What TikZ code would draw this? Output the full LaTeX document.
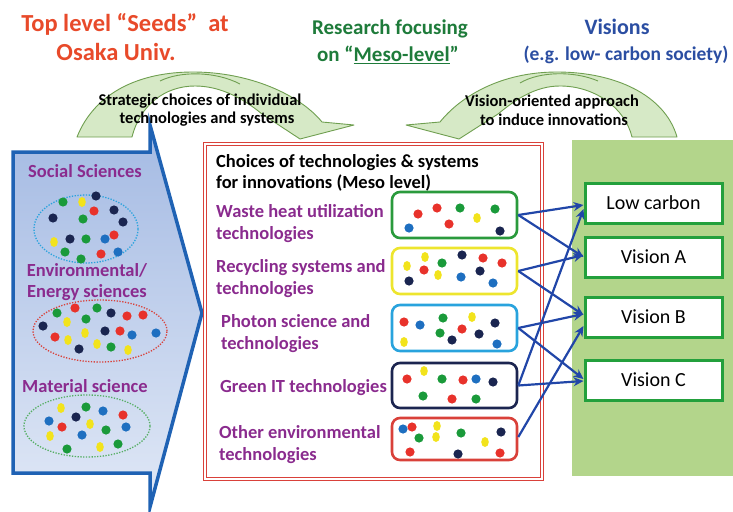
\documentclass[tikz,border=0pt]{standalone}
\usepackage{fontspec}
\setmainfont{Carlito}
\usetikzlibrary{calc,arrows.meta}
\definecolor{tred}{HTML}{E84A2A}
\definecolor{tgreen}{HTML}{1E7B3A}
\definecolor{tblue}{HTML}{2B4EA2}
\definecolor{tpurple}{HTML}{8A2B8E}
\definecolor{chevblue}{HTML}{1F62B4}
\definecolor{chevtop}{HTML}{A4BAE3}
\definecolor{chevbot}{HTML}{E0E8F6}
\definecolor{panelgreen}{HTML}{B3D58B}
\definecolor{visgreen}{HTML}{23A03C}
\definecolor{boxred}{HTML}{D9413A}
\definecolor{arrowblue}{HTML}{2146A8}
\definecolor{cfill}{HTML}{D6E9C6}
\definecolor{cdraw}{HTML}{6F9F50}
\definecolor{cr}{HTML}{E8322B}
\definecolor{cg}{HTML}{1A9A3A}
\definecolor{cy}{HTML}{F2E31C}
\definecolor{cn}{HTML}{1A2550}
\definecolor{cb}{HTML}{1E6FC0}
\definecolor{bgreen}{HTML}{2A9A3C}
\definecolor{byellow}{HTML}{EDE52E}
\definecolor{bcyan}{HTML}{29A3DD}
\definecolor{bnavy}{HTML}{1C2550}
\begin{document}
\begin{tikzpicture}[x=1pt,y=-1pt,
  title/.style={anchor=base,font=\bfseries\fontsize{22}{26}\selectfont},
  arlabel/.style={anchor=base,font=\bfseries\fontsize{16.5}{19}\selectfont,text=black},
  purp/.style={anchor=base west,font=\bfseries\fontsize{18.5}{22}\selectfont,text=tpurple,inner sep=0},
  leftlab/.style={anchor=base,font=\bfseries\fontsize{18.5}{22}\selectfont,text=tpurple,inner sep=0},
  head/.style={anchor=base west,font=\bfseries\fontsize{18.5}{22}\selectfont,text=black,inner sep=0},
  dbox/.style={rounded corners=8pt,line width=2.6pt,minimum width=125pt,inner sep=0},
  visbox/.style={draw=visgreen,line width=3pt,fill=white,minimum width=137pt,minimum height=40pt,inner sep=0,font=\fontsize{20}{24}\selectfont},
  varrow/.style={draw=arrowblue,line width=2.2pt,-{Stealth[length=10pt,width=9pt]}},
  curvarrow/.style={fill=cfill,draw=cdraw,line width=0.9pt,line join=round},
  foldline/.style={draw=cdraw,line width=0.9pt},
  dotline/.style={line width=1.3pt,dash pattern=on 1.3pt off 1.5pt}
]
\useasboundingbox (0,0) rectangle (733,511);

% green panel
\fill[panelgreen] (572,140) rectangle (733,476);

% blue chevron
\draw[line width=3.5pt,draw=chevblue,top color=chevtop,bottom color=chevbot,line join=miter]
  (13,152) -- (150,152) -- (150,125) -- (202,313) -- (150,507) -- (150,473) -- (13,473) -- cycle;

% curved arrows
\draw[curvarrow] (77,137) .. controls (95,92) and (140,72) .. (193,72)
  .. controls (250,72) and (300,95) .. (322,122) -- (354,125) -- (300,139) -- (262,114)
  .. controls (245,100) and (222,86) .. (195,86)
  .. controls (165,86) and (140,105) .. (132,137) -- cycle;
\draw[foldline] (160,81) .. controls (180,71) and (215,71) .. (240,84);
\draw[curvarrow] (677,137) .. controls (665,95) and (615,72) .. (557,72)
  .. controls (500,72) and (460,97) .. (440,122) -- (406,125) -- (459,139) -- (498,114)
  .. controls (515,100) and (535,86) .. (560,86)
  .. controls (595,86) and (625,108) .. (632,137) -- cycle;
\draw[foldline] (520,83) .. controls (540,71) and (575,71) .. (598,81);

% titles
\node[title,text=tred,font=\bfseries\fontsize{24.5}{29}\selectfont] (t1a) at (125,32) {Top level “Seeds”\ \ at};
\node[title,text=tred,font=\bfseries\fontsize{24.5}{29}\selectfont] (t1b) at (116,60) {Osaka Univ.};
\node[title,text=tgreen,font=\bfseries\fontsize{21}{25}\selectfont] (t2a) at (390,35) {Research focusing};
\node[title,text=tgreen,font=\bfseries\fontsize{21}{25}\selectfont] (t2b) at (388,62) {on “\underline{Meso-level}”};
\node[title,text=tblue] (t3a) at (617,35) {Visions};
\node[title,text=tblue,font=\bfseries\fontsize{19.5}{23}\selectfont] (t3b) at (626,60) {(e.g. low- carbon society)};

\node[arlabel] (l1a) at (200,105) {Strategic choices of individual};
\node[arlabel] (l1b) at (207,123) {technologies and systems};
\node[arlabel] (l2a) at (552,106) {Vision-oriented approach};
\node[arlabel] (l2b) at (554,125) {to induce innovations};

% left panel
\node[leftlab] (s1) at (85,177) {Social Sciences};
\node[leftlab] (s2a) at (87,276) {Environmental/};
\node[leftlab] (s2b) at (87,297) {Energy sciences};
\node[leftlab] (s3) at (85,392) {Material science};
\draw[dotline,draw=bcyan] (86,229) ellipse (52pt and 34pt);
\draw[dotline,draw=boxred] (100,331) ellipse (67pt and 31pt);
\draw[dotline,draw=bgreen!80] (87,426) ellipse (63pt and 31pt);

% red double box
\draw[boxred,line width=1.2pt,double=white,double distance=2.2pt] (205,144) rectangle (542,479);
\node[head] (h1) at (216,167) {Choices of technologies \& systems};
\node[head] (h2) at (216,188) {for innovations (Meso level)};

\node[purp] (p1a) at (216,217) {Waste heat utilization};
\node[purp] (p1b) at (216,239) {technologies};
\node[purp] (p2a) at (216,272) {Recycling systems and};
\node[purp] (p2b) at (216,294) {technologies};
\node[purp] (p3a) at (221,327) {Photon science and};
\node[purp] (p3b) at (221,349) {technologies};
\node[purp] (p4) at (220,392) {Green IT technologies};
\node[purp] (p5a) at (219,438) {Other environmental};
\node[purp] (p5b) at (219,460) {technologies};

\node[dbox,draw=bgreen,minimum height=46pt] (b1) at (454.5,215) {};
\node[dbox,draw=byellow,minimum height=46pt] (b2) at (454.5,271) {};
\node[dbox,draw=bcyan,minimum height=46pt] (b3) at (454.5,328) {};
\node[dbox,draw=bnavy,minimum height=45pt] (b4) at (454.5,385.5) {};
\node[dbox,draw=boxred,minimum height=42pt] (b5) at (454.5,439) {};

% dots (round)
\foreach \p/\q/\c in {
  63/202/cg, 96/196/cn, 94/211/cr, 114/210/cn, 53/218/cn, 83/219/cg, 123/222/cn,
  70/239/cn, 86/239/cg, 105/239/cb, 114/235/cr, 65/252/cg, 101/254/cr, 118/252/cb, 81/259/cg,
  57/313/cg, 75/308/cr, 97/308/cg, 111/313/cn, 127/316/cr, 143/315/cr, 43/326/cn, 86/319/cg,
  55/337/cr, 105/331/cn, 120/331/cr, 132/335/cb, 156/333/cb, 79/349/cn, 111/347/cg,
  86/407/cg, 103/411/cb, 123/415/cr, 49/421/cb, 76/417/cn, 62/427/cr, 106/430/cg, 126/427/cb,
  82/435/cb, 67/449/cg, 118/444/cg,
  418/214/cr, 437/208/cr, 460/208/cg, 495/209/cg, 449/224/cr, 409/228/cb, 500/231/cn,
  424/270/cr, 442/263/cg, 409/281/cn, 462/255/cn, 461/277/cb, 483/258/cr, 480/271/cn, 502/263/cr, 493/283/cb,
  404/322/cr, 420/325/cb, 443/318/cg, 440/333/cg, 462/329/cr, 495/323/cn, 479/334/cn, 452/340/cn, 497/344/cb,
  407/379/cr, 442/379/cg, 463/380/cr, 476/379/cb, 493/382/cn, 423/396/cg, 452/399/cr, 476/399/cg,
  403/429/cb, 412/427/cr, 419/438/cg, 461/433/cg, 501/432/cn, 410/452/cr, 458/454/cn, 500/453/cr}
  \fill[\c] (\p,\q) circle (4.6pt);
% dots (yellow)
\foreach \p/\q in {82/202, 54/242, 67/322, 68/340, 85/333, 97/344, 128/350,
  61/408, 90/424, 50/436, 100/447, 477/218, 407/266, 425/257, 438/275,
  472/317, 404/342, 424/371, 437/426, 436/437, 485/442}
  \fill[cy] (\p,\q) ellipse (3.8pt and 5pt);

% vision boxes
\node[visbox] (v0) at (653.5,203) {Low carbon};
\node[visbox] (v1) at (653.5,257) {Vision A};
\node[visbox] (v2) at (653.5,317) {Vision B};
\node[visbox] (v3) at (653.5,380) {Vision C};

% arrows
\draw[varrow] (b1.east) -- ($(v0.west)+(0,2)$);
\draw[varrow] (b1.east) -- ($(v1.west)+(0,0)$);
\draw[varrow] (b2.east) -- ($(v1.west)+(0,-2)$);
\draw[varrow] (b2.east) -- ($(v2.west)+(0,-2)$);
\draw[varrow] (b3.east) -- ($(v2.west)+(0,-3)$);
\draw[varrow] (b3.east) -- ($(v3.west)+(0,-1)$);
\draw[varrow] (b4.east) -- ($(v0.west)+(0,6)$);
\draw[varrow] (b4.east) -- ($(v3.west)+(0,1)$);
\draw[varrow] ($(b5.east)+(0,-2)$) -- ($(v2.west)+(0,9)$);
\end{tikzpicture}
\end{document}
